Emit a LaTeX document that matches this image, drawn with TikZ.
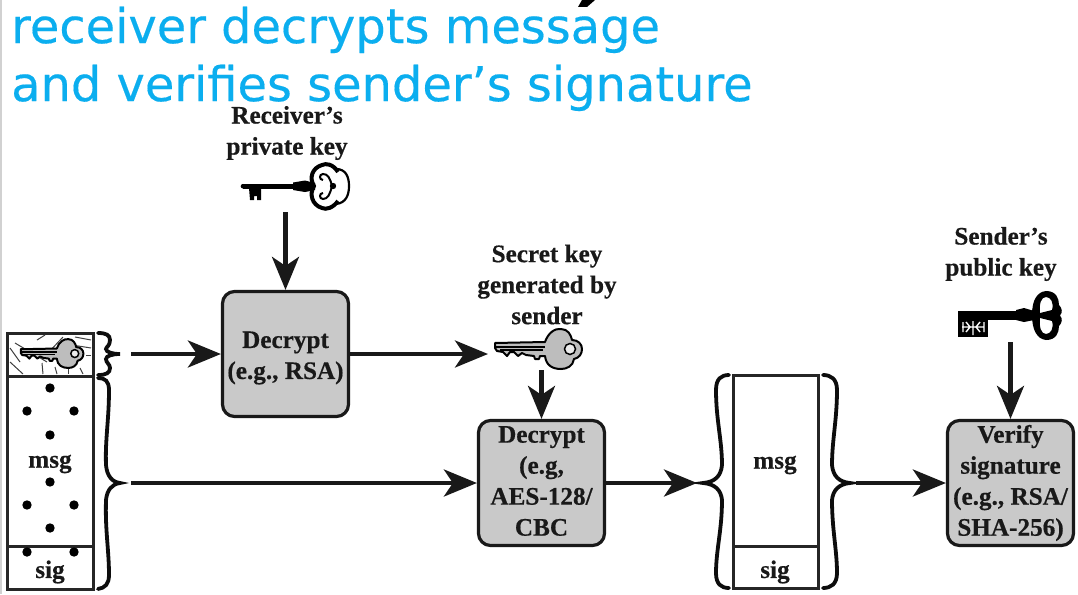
\documentclass[tikz,border=0pt]{standalone}
\usepackage{fontspec}
\setmainfont[BoldFeatures={FakeBold=0.5}]{Liberation Serif}
\newfontfamily\titlefont[FakeBold=0.3]{DejaVu Sans}
\usetikzlibrary{arrows.meta}
\definecolor{titleblue}{HTML}{0BAEEF}
\definecolor{boxgray}{HTML}{C9C9C9}
\definecolor{keygray}{HTML}{BDBDBD}
\tikzset{
  graykey/.pic={
    \draw[fill=keygray,line width=2pt,line join=round]
      (-42,-8) -- (8,-9) .. controls (11,-18) and (18,-23) .. (24,-22)
      .. controls (31,-22) and (34,-16) .. (35,-11)
      .. controls (41,-11) and (45,-7) .. (45,-2)
      .. controls (45,3) and (42,7) .. (37,8)
      .. controls (36,15) and (30,18) .. (24,18)
      .. controls (15,18) and (9,14) .. (8,5)
      -- (3,5) -- (2,8) -- (-2,8) -- (-3,5) -- (-11,4) -- (-15,2) -- (-19,5) -- (-23,1)
      -- (-27,1) -- (-30,5) -- (-34,1) -- (-40,0) -- (-42,-3) -- cycle;
    \draw[line width=1.5pt] (-41,-4) -- (8,-4) (-37,-1) -- (6,-1);
    \draw[line width=1.5pt,fill=white!70!keygray] (33,-2) circle (5.5);
  }
}
\begin{document}
\begin{tikzpicture}[x=1pt,y=-1pt,
    every node/.style={font=\bfseries\fontsize{25.2}{31}\selectfont,align=center,text=black!90},
    arr/.style={line width=4.2pt,-{Stealth[length=33pt,width=27pt,inset=9pt]},black!90},
    proc/.style={draw=black!90,fill=boxgray,line width=3.2pt,rounded corners=12pt,minimum width=126pt,minimum height=125pt,inner sep=0pt},
    cell/.style={draw=black!85,line width=3pt},
    brc/.style={line width=3.8pt,black!95,line cap=round}]
  \useasboundingbox (0,0) rectangle (1078,594);
  \fill[white] (0,0) rectangle (1078,594);
  \fill[black!18] (0,0) rectangle (1.5,594);

  % heading
  \node[font=\titlefont\fontsize{47.9}{58}\selectfont,text=titleblue,align=left,anchor=north west,inner sep=0pt] (head) at (11,6.5)
    {receiver decrypts message\\and verifies sender’s signature};
  \fill[black] (582,0) -- (595,0) -- (587,7) -- (578,7) -- cycle;

  % boxes
  \node[proc,label={[yshift=-4pt]center:Decrypt\\(e.g., RSA)}] (dec1) at (285.5,354) {};
  \node[proc,label={[yshift=2pt]center:Decrypt\\(e.g,\\AES-128/\\CBC}] (dec2) at (541.5,483) {};
  \node[proc] (ver) at (1010.5,483) {Verify\\signature\\(e.g., RSA/\\SHA-256)};

  % labels
  \node (rlab) at (287,133) {Receiver’s\\private key};
  \node (slab) at (547,284.5) {Secret key\\generated by\\sender};
  \node (plab) at (1001,254) {Sender’s\\public key};

  % left stack
  \draw[cell] (7,333) rectangle (93,589);
  \draw[cell] (7,376) -- (93,376);
  \draw[cell] (7,546) -- (93,546);
  \node (msg1) at (50,464) {msg};
  \node (sig1) at (50,572) {sig};
  \foreach \x/\y in {50/388,27/411,74/411,50/435,50/482,27/505,74/505,50/528,27/552,74/552}
    \fill[black] (\x,\y) circle (4.7);
  % hatch of the wrapped key
  \foreach \a/\b/\c/\d in {15/343/47/362,37/340/45/335,48/353/63/337,10/348/20/362,10/362/23/374,42/363/43/374,55/367/57/374,68/368/68/374,80/368/83/374,75/337/91/340,72/345/91/348,86/355/91/355}
    \draw[black!75,line width=1pt] (\a,\b) -- (\c,\d);
  \pic[scale=.72,transform shape] at (51,355) {graykey};

  % right stack
  \draw[cell] (733,375) rectangle (818,588);
  \draw[cell] (733,546) -- (818,546);
  \node (msg2) at (775,465) {msg};
  \node (sig2) at (775,572) {sig};

  % braces
  \draw[brc] (98,333) .. controls (106,333) and (110,335) .. (110,340) .. controls (110,346) and (106,347) .. (106,349) .. controls (106,352) and (112,354) .. (120,354)
    .. controls (112,354) and (106,356) .. (106,359) .. controls (106,363) and (110,364) .. (110,368) .. controls (110,373) and (106,375) .. (98,375);
  \draw[brc] (98,378) .. controls (105,378) and (109,381) .. (109,390) .. controls (109,420) and (105,440) .. (106,465) .. controls (107,476) and (112,482) .. (120,483)
    .. controls (112,484) and (107,490) .. (106,500) .. controls (105,530) and (109,550) .. (109,575) .. controls (109,584) and (105,588) .. (98,589);
  \draw[brc] (729,375) .. controls (721,375) and (716,379) .. (716,390) .. controls (716,420) and (722,440) .. (722,465) .. controls (721,476) and (715,482) .. (703,483)
    .. controls (715,484) and (721,490) .. (722,500) .. controls (722,530) and (716,550) .. (716,573) .. controls (716,584) and (721,588) .. (729,588);
  \draw[brc] (823,375) .. controls (831,375) and (837,379) .. (837,390) .. controls (837,420) and (832,440) .. (832,465) .. controls (833,476) and (839,482) .. (850,483)
    .. controls (839,484) and (833,490) .. (832,500) .. controls (832,530) and (837,550) .. (837,573) .. controls (837,584) and (831,588) .. (823,588);

  % keys
  \pic at (537,351) {graykey};
  % receiver key
  \fill[black] (243,184) rectangle (293,188.5);
  \fill[black] (243,186.2) circle (2.3);
  \fill[black] (249,188) -- (261,188) -- (261,200) -- (257,200) -- (257,196) -- (254,196) -- (254,200) -- (250,200) -- cycle;
  \fill[black] (293,182.5) -- (305,180.5) -- (315,183) -- (315,190) -- (305,192) -- (293,190) -- cycle;
  \draw[black,line width=4pt] (338,172) .. controls (333,164) and (326,163) .. (322,165) .. controls (312,168) and (309,178) .. (314,186)
    .. controls (309,194) and (312,205) .. (322,208) .. controls (326,210) and (333,208) .. (338,201);
  \draw[black,line width=2.2pt] (336,169) .. controls (346,169) and (349,177) .. (349,186) .. controls (349,195) and (346,203) .. (336,204);
  \draw[black,line width=2pt] (332,186) .. controls (330,178) and (328,174) .. (323,174) .. controls (319,174) and (319,180) .. (323,180)
    (332,186) .. controls (330,194) and (328,199) .. (323,199) .. controls (319,199) and (319,193) .. (323,193);
  \fill[black] (333,186) circle (3.2);
  % sender key
  \fill[black] (958,311) rectangle (1017,320);
  \fill[black] (1016,310) -- (1024,308) -- (1034,311) -- (1034,320) -- (1024,322) -- (1016,320) -- cycle;
  \fill[black] (958,320) rectangle (988,337);
  \draw[white,line width=1.4pt] (973,321) -- (973,335) (962,327) -- (984,327) (966,322) -- (970,327) (980,322) -- (976,327) (966,332) -- (970,327) (980,332) -- (976,327) (963,322) -- (963,332) (984,322) -- (984,332);
  \fill[black,even odd rule] (1032,315) .. controls (1032,300) and (1037,292) .. (1046,291) .. controls (1056,291) and (1059,298) .. (1059,305) .. controls (1062,308) and (1063,312) .. (1060,315.5)
    .. controls (1063,319) and (1062,323) .. (1059,326) .. controls (1059,333) and (1056,340) .. (1046,340) .. controls (1037,339) and (1032,330) .. (1032,315)
    (1040,313) .. controls (1039,304) and (1041,297) .. (1046,297) .. controls (1051,297) and (1054,303) .. (1052,310) .. controls (1048,311) and (1044,312) .. (1040,313)
    (1040,318) .. controls (1044,319) and (1048,320) .. (1052,321) .. controls (1054,328) and (1051,334) .. (1046,334) .. controls (1041,334) and (1039,327) .. (1040,318);

  % connectors
  \coordinate (rstart) at (285.5,212);
  \coordinate (bstart) at (131,354);
  \coordinate (skey) at (488,354);
  \coordinate (kstart) at (541.5,370);
  \coordinate (mstart) at (131,483);
  \coordinate (mend) at (697,483);
  \coordinate (vstart) at (856,483);
  \coordinate (pstart) at (1010.5,342);
  \draw[arr] (rstart) -- (dec1);
  \draw[arr] (bstart) -- (dec1);
  \draw[arr] (dec1) -- (skey);
  \draw[arr] (kstart) -- (dec2);
  \draw[arr] (mstart) -- (dec2);
  \draw[arr] (dec2) -- (mend);
  \draw[arr] (vstart) -- (ver);
  \draw[arr] (pstart) -- (ver);

\end{tikzpicture}
\end{document}
